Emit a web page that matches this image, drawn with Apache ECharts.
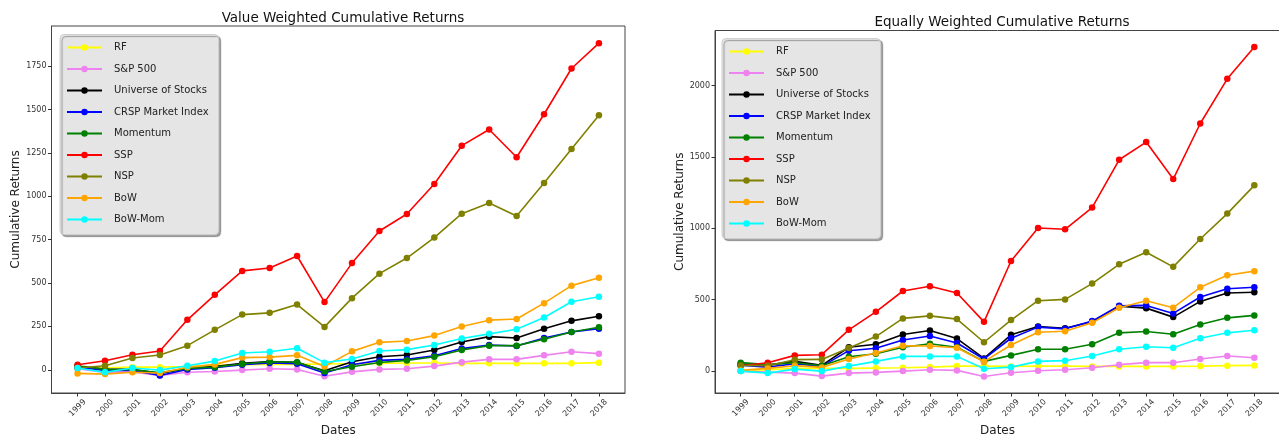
<!DOCTYPE html>
<html>
<head>
<meta charset="utf-8">
<script src="https://cdn.jsdelivr.net/npm/echarts@6/dist/echarts.min.js"></script>
<style>
html,body{margin:0;padding:0;background:#fff;}
#c{width:1279px;height:435px;}
</style>
</head>
<body>
<div id="c"></div>
<script>
// ---- data ----
const years = [1999,2000,2001,2002,2003,2004,2005,2006,2007,2008,2009,2010,2011,2012,2013,2014,2015,2016,2017,2018];
const seriesNames = ['RF','S&P 500','Universe of Stocks','CRSP Market Index','Momentum','SSP','NSP','BoW','BoW-Mom'];
const seriesColors = ['#ffff00','#ee82ee','#000000','#0000ff','#008000','#ff0000','#808000','#ffa500','#00ffff'];

// Value weighted
const vwRF       = [12,12,15,15,19,25,29,31,31,33,35,37,39,39,37,37,37,37,37,41];
const vwSP500    = [6,-15,-12,-33,-14,-10,-2,6,2,-37,-12,2,6,21,44,60,60,83,104,93];
const vwUniverse = [19,4,2,-21,8,19,37,48,42,-6,46,75,85,114,160,191,183,237,282,309];
const vwCRSP     = [15,-4,-4,-33,2,12,29,39,35,-19,29,54,60,81,122,143,137,183,218,237];
const vwMomentum = [23,2,0,-17,8,15,33,46,44,-10,17,42,54,75,114,139,139,176,218,245];
const vwSSP      = [29,52,87,108,288,432,570,587,656,390,615,800,898,1071,1292,1385,1225,1473,1737,1883];
const vwNSP      = [10,23,68,85,139,230,318,328,376,247,413,554,644,762,900,962,887,1077,1273,1467];
const vwBoW      = [-21,-25,-14,-19,14,31,70,73,83,19,106,158,166,197,249,286,293,384,485,531];
const vwBoWMom   = [10,-15,10,-2,23,50,97,104,124,41,62,108,116,143,180,207,234,301,392,421];

// Equally weighted
const ewRF       = [0,9,19,19,19,21,23,28,35,35,33,35,35,33,33,33,33,35,38,40];
const ewSP500    = [0,-7,-14,-35,-14,-9,0,9,5,-38,-12,2,9,23,45,59,59,85,106,94];
const ewUniverse = [49,42,68,40,167,188,256,284,228,89,254,312,300,345,455,441,378,488,547,552];
const ewCRSP     = [42,28,52,33,143,160,218,246,197,85,230,308,296,350,458,460,404,519,577,587];
const ewMomentum = [59,45,59,38,101,122,167,192,167,68,110,153,153,188,268,277,258,326,373,390];
const ewSSP      = [38,59,110,115,289,415,561,594,547,345,771,1002,993,1145,1480,1604,1345,1734,2047,2270];
const ewNSP      = [40,38,80,82,162,242,369,387,364,202,357,493,502,613,748,832,730,925,1103,1301];
const ewBoW      = [5,19,38,26,85,127,178,176,164,66,183,272,279,338,444,493,444,587,671,700];
const ewBoWMom   = [0,-14,14,0,35,68,103,103,103,16,28,68,73,106,153,171,164,230,268,286];

const leftYTicks  = [0,250,500,750,1000,1250,1500,1750];
const rightYTicks = [0,500,1000,1500,2000];

const vwData = [vwRF,vwSP500,vwUniverse,vwCRSP,vwMomentum,vwSSP,vwNSP,vwBoW,vwBoWMom];
const ewData = [ewRF,ewSP500,ewUniverse,ewCRSP,ewMomentum,ewSSP,ewNSP,ewBoW,ewBoWMom];

// ---- chart ----
const chart = echarts.init(document.getElementById('c'), null, {renderer:'canvas'});
const FONT = 'DejaVu Sans';
const axisColor = '#444';

function mkX(idx){
  return {
    type:'value', gridIndex:idx, min:1998.05, max:2018.95,
    name:'Dates', nameLocation:'middle', nameGap:30,
    nameTextStyle:{fontFamily:FONT,fontSize:12,color:'#222'},
    splitLine:{show:false},
    axisLine:{show:true,onZero:false,lineStyle:{color:axisColor,width:1}},
    axisTick:{show:true,length:3.5,customValues:years,lineStyle:{color:'#333'}},
    axisLabel:{customValues:years,rotate:45,align:'center',verticalAlign:'middle',margin:15,
      fontFamily:FONT,fontSize:8,color:'#333',formatter:v=>String(v)}
  };
}
function mkY(idx,min,max,ticks){
  return {
    type:'value', gridIndex:idx, min:min, max:max,
    name:'Cumulative Returns', nameLocation:'middle', nameGap:29, nameRotate:90,
    nameTextStyle:{fontFamily:FONT,fontSize:12,color:'#222'},
    splitLine:{show:false},
    axisLine:{show:true,onZero:false,lineStyle:{color:axisColor,width:1}},
    axisTick:{show:true,length:3.5,customValues:ticks,lineStyle:{color:'#333'}},
    axisLabel:{customValues:ticks,margin:5,fontFamily:FONT,fontSize:8,color:'#333',formatter:v=>String(v)}
  };
}
function mkLegend(left,top){
  return {
    left:left, top:top, orient:'vertical',
    data:seriesNames,
    itemWidth:35, itemHeight:8, itemGap:11.5,
    padding:[8,10,10,6],
    backgroundColor:'#e5e5e5', borderColor:'#cfcfcf', borderWidth:1, borderRadius:4,
    shadowColor:'rgba(0,0,0,0.35)', shadowBlur:1, shadowOffsetX:2, shadowOffsetY:2,
    textStyle:{fontFamily:FONT,fontSize:10,color:'#222',padding:[0,0,0,7]},
    selectedMode:false
  };
}

const series = [];
[vwData, ewData].forEach((set,gi)=>{
  set.forEach((arr,i)=>{
    series.push({
      name:seriesNames[i], type:'line', xAxisIndex:gi, yAxisIndex:gi,
      data:years.map((y,k)=>[y,arr[k]]),
      symbol:'circle', symbolSize:6.5, showSymbol:true,
      lineStyle:{color:seriesColors[i],width:1.6},
      itemStyle:{color:seriesColors[i]},
      emphasis:{disabled:true},
      animation:false, z:2+i
    });
  });
});

chart.setOption({
  backgroundColor:'#ffffff',
  animation:false,
  title:[
    {text:'Value Weighted Cumulative Returns', left:338, top:6, textAlign:'center',
     textStyle:{fontFamily:FONT,fontSize:13.5,fontWeight:'normal',color:'#111'}},
    {text:'Equally Weighted Cumulative Returns', left:997, top:10, textAlign:'center',
     textStyle:{fontFamily:FONT,fontSize:13.5,fontWeight:'normal',color:'#111'}}
  ],
  grid:[
    {left:51.5, right:1279-625, top:26, bottom:42, containLabel:false, outerBoundsMode:'none',
     show:true, borderColor:axisColor, borderWidth:1, backgroundColor:'transparent'},
    {left:715, right:-1, top:30.5, bottom:42, containLabel:false, outerBoundsMode:'none',
     show:true, borderColor:axisColor, borderWidth:1, backgroundColor:'transparent'}
  ],
  xAxis:[mkX(0), mkX(1)],
  yAxis:[mkY(0,-134,1982,leftYTicks), mkY(1,-153.4,2385.4,rightYTicks)],
  legend:[mkLegend(60,34.5), mkLegend(722,38.5)],
  series:series
});
</script>
</body>
</html>
